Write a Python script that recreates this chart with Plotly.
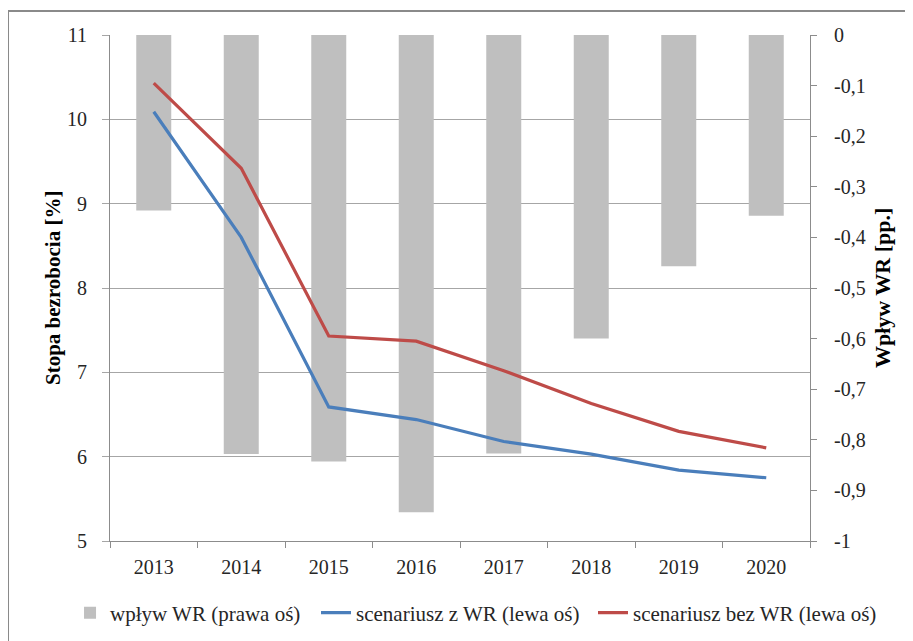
import plotly.graph_objects as go

years = ["2013", "2014", "2015", "2016", "2017", "2018", "2019", "2020"]
wplyw_wr = [-0.347, -0.828, -0.843, -0.943, -0.827, -0.600, -0.457, -0.357]
z_wr = [10.09, 8.60, 6.59, 6.44, 6.18, 6.03, 5.84, 5.75]
bez_wr = [10.43, 9.42, 7.43, 7.37, 7.02, 6.63, 6.30, 6.105]

left_ticks = [5, 6, 7, 8, 9, 10, 11]
right_ticks = [0, -0.1, -0.2, -0.3, -0.4, -0.5, -0.6, -0.7, -0.8, -0.9, -1]
right_labels = ["0", "-0,1", "-0,2", "-0,3", "-0,4", "-0,5", "-0,6", "-0,7", "-0,8", "-0,9", "-1"]

names = ["wpływ WR (prawa oś)", "scenariusz z WR (lewa oś)", "scenariusz bez WR (lewa oś)"]
left_title = "Stopa bezrobocia [%]"
right_title = "Wpływ WR [pp.]"

FONT = "Liberation Serif"
TXT = "#262626"
AX = "#8c8c8c"
GRID = "#a6a6a6"
TICK_SIZE = 20
LEG_SIZE = 21

fig = go.Figure()
# bars on the base (right) axis, lines on the overlaying (left) axis so they draw above
fig.add_trace(go.Bar(x=years, y=wplyw_wr, name=names[0], yaxis="y", legend="legend",
                     marker=dict(color="#bfbfbf", line=dict(width=0)), width=0.4))
fig.add_trace(go.Scatter(x=years, y=z_wr, name=names[1], mode="lines", yaxis="y2",
                         legend="legend2", line=dict(color="#4a7ebb", width=3.2)))
fig.add_trace(go.Scatter(x=years, y=bez_wr, name=names[2], mode="lines", yaxis="y2",
                         legend="legend3", line=dict(color="#be4b48", width=3.2)))

def leg(x):
    return dict(orientation="h", x=x, xanchor="left", y=-0.1423, yanchor="middle",
                font=dict(family=FONT, size=LEG_SIZE, color=TXT),
                bgcolor="rgba(0,0,0,0)", borderwidth=0)

fig.update_layout(
    width=913, height=641,
    margin=dict(l=102, r=111, t=27, b=108, autoexpand=False),
    paper_bgcolor="white", plot_bgcolor="white",
    font=dict(family=FONT, size=TICK_SIZE, color=TXT),
    showlegend=True,
    legend=leg(-0.0571),
    legend2=leg(0.2943),
    legend3=leg(0.6900),
    xaxis=dict(type="category", showline=True, linecolor=AX, linewidth=1,
               ticks="outside", tickson="boundaries", ticklen=6, tickcolor=AX,
               showgrid=False, ticklabelstandoff=8,
               tickfont=dict(family=FONT, size=TICK_SIZE, color=TXT)),
    yaxis=dict(range=[-1, 0], side="right", tickvals=right_ticks, ticktext=right_labels,
               showgrid=False, showline=True, linecolor=AX, ticks="outside",
               ticklen=6, tickcolor=AX, zeroline=False, ticklabelstandoff=13,
               tickfont=dict(family=FONT, size=TICK_SIZE, color=TXT)),
    yaxis2=dict(range=[5, 11], overlaying="y", side="left", tickvals=left_ticks,
                showgrid=True, gridcolor=GRID, gridwidth=1, showline=True,
                linecolor=AX, ticks="outside", ticklen=7, tickcolor=GRID,
                zeroline=False, ticklabelstandoff=11,
                tickfont=dict(family=FONT, size=TICK_SIZE, color=TXT)),
    annotations=[
        dict(text="<b>" + left_title + "</b>", xref="paper", yref="paper",
             x=-0.0814, y=0.5, xanchor="center", yanchor="middle", textangle=-90,
             showarrow=False, font=dict(family=FONT, size=21, color="black")),
        dict(text="<b>" + right_title + "</b>", xref="paper", yref="paper",
             x=1.1029, y=0.5, xanchor="center", yanchor="middle", textangle=-90,
             showarrow=False, font=dict(family=FONT, size=22, color="black")),
    ],
    shapes=[dict(type="rect", xref="paper", yref="paper",
                 x0=-0.1457, x1=1.16, y0=-0.22, y1=1.0474,
                 line=dict(color="#8a8a8a", width=2), fillcolor="rgba(0,0,0,0)",
                 layer="below")],
)

fig.write_html("out.html")
